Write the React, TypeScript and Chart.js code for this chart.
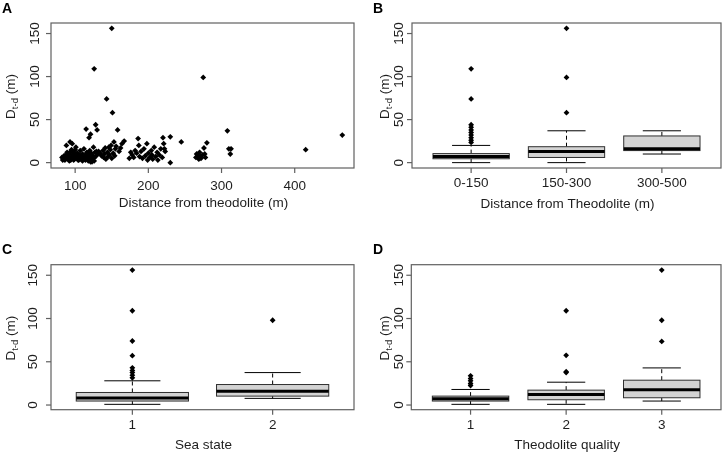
import React, { useEffect, useRef } from "react";
import { Chart, registerables } from "chart.js";
Chart.register(...registerables);

const W = 725;
const H = 455;

// ---------- Data ----------
// Panel A: distance from theodolite (m) vs D t-d (m)
const pointsNear: [number, number][] = [
  [82, 6], [83, 3], [84, 4], [85, 8], [86, 3], [87, 8], [88, 20], [88, 5], [89, 12], [90, 5],
  [90, 9], [91, 7], [92, 10], [92, 2], [93, 24], [94, 3], [94, 13], [95, 15], [95, 6], [96, 9],
  [96, 22], [97, 6], [98, 12], [98, 3], [99, 4], [100, 8], [100, 15], [101, 18], [102, 5], [102, 10],
  [103, 11], [104, 7], [104, 3], [105, 3], [106, 9], [107, 14], [107, 5], [108, 6], [109, 4], [110, 10],
  [110, 2], [111, 7], [112, 16], [112, 4], [113, 5], [114, 3], [114, 9], [115, 8], [116, 12], [116, 5],
  [117, 6], [118, 2], [118, 10], [119, 9], [120, 4], [120, 14], [121, 1], [121, 7], [122, 6], [122, 11],
  [123, 3], [123, 1], [124, 8], [125, 5], [125, 18], [126, 2], [127, 12], [128, 7], [129, 13], [131, 10],
  [115, 39], [119, 29], [121, 33], [126, 109], [128, 44], [130, 38], [132, 13], [134, 11],
];
const pointsMid: [number, number][] = [
  [136, 8], [138, 14], [139, 6], [140, 10], [141, 17], [142, 4], [143, 74], [144, 12], [145, 7], [146, 18],
  [147, 9], [148, 15], [149, 20], [150, 156], [150, 5], [151, 58], [152, 11], [153, 24], [154, 8], [155, 16],
  [156, 19], [158, 38], [160, 13], [162, 17], [164, 22], [167, 25], [174, 5], [176, 12], [178, 9], [180, 6],
  [182, 14], [184, 11], [186, 28], [187, 20], [188, 7], [190, 13], [192, 5], [194, 16], [196, 8], [198, 22],
  [199, 3], [200, 11], [202, 6], [204, 14], [205, 9], [206, 4], [208, 18], [210, 7], [212, 12], [213, 3],
  [215, 9], [217, 16], [219, 6], [220, 29], [221, 22], [222, 16], [223, 13],
];
const pointsFar: [number, number][] = [
  [230, 30], [230, 0], [245, 24], [265, 6], [266, 10], [268, 8], [269, 4], [270, 12], [271, 7], [272, 5],
  [274, 9], [275, 99], [276, 17], [277, 10], [278, 6], [280, 23], [308, 37], [310, 16], [312, 10], [313, 16],
  [415, 15], [465, 32],
];

// Panel B: distance bands
const distLabels = ["0-150", "150-300", "300-500"];
const distLow = [0, 0, 10];
const distQ1 = [4.5, 6, 14];
const distMed = [7, 12.8, 16];
const distQ3 = [10.5, 18.5, 31];
const distHigh = [20, 37, 37];
const distOut = [[109, 74, 44, 41, 38, 35, 32, 29, 26, 23.5], [156, 99, 58], []];

// Panel C: sea state
const seaLabels = ["1", "2"];
const seaLow = [0.8, 7.7];
const seaQ1 = [4.6, 10.3];
const seaMed = [8, 16];
const seaQ3 = [14.5, 23.7];
const seaHigh = [28, 37.5];
const seaOut = [[156, 109, 74, 57, 43, 40, 37.5, 34.5, 31.5], [98]];

// Panel D: theodolite quality
const qualLabels = ["1", "2", "3"];
const qualLow = [0.8, 0.8, 4.6];
const qualQ1 = [4.6, 6.1, 8.4];
const qualMed = [7.3, 12.2, 17.6];
const qualQ3 = [10.3, 17.2, 28.7];
const qualHigh = [18, 26.4, 42.9];
const qualOut = [[33.7, 30.6, 28, 24.9, 22.6], [109, 57.4, 37.5, 38.5], [156, 98, 73.5]];

const yTicks = [0, 50, 100, 150];
const xTicksA = [100, 200, 300, 400];

// ---------- Layout / style ----------
const FONT = "'Liberation Sans', Arial, Helvetica, sans-serif";
const FRAME = "#606060";
const TEXT = "#1e1e1e";

type BoxStats = { low: number[]; q1: number[]; med: number[]; q3: number[]; high: number[]; out: number[][]; labels: string[] };

type Panel = {
  letter: string;
  area: { l: number; t: number; r: number; b: number };
  xMin: number; xMax: number; yMin: number; yMax: number;
  letterPos: [number, number];
  yTitleX: number;
  yTickX: number;
  xTickY: number;
  xTitleY: number;
  xTitle: string;
  box?: BoxStats;
  scatter?: [number, number][];
};

const panels: Panel[] = [
  {
    letter: "A", area: { l: 51, t: 23, r: 354, b: 168 },
    xMin: 67, xMax: 481, yMin: -6.24, yMax: 162.24,
    letterPos: [2, 13], yTitleX: 10, yTickX: 35, xTickY: 186, xTitleY: 203,
    xTitle: "Distance from theodolite (m)",
    scatter: [...pointsNear, ...pointsMid, ...pointsFar],
  },
  {
    letter: "B", area: { l: 412, t: 23, r: 722, b: 168 },
    xMin: 0.38, xMax: 3.62, yMin: -6.24, yMax: 162.24,
    letterPos: [373, 13], yTitleX: 384, yTickX: 399.5, xTickY: 183, xTitleY: 204,
    xTitle: "Distance from Theodolite (m)",
    box: { low: distLow, q1: distQ1, med: distMed, q3: distQ3, high: distHigh, out: distOut, labels: distLabels },
  },
  {
    letter: "C", area: { l: 51, t: 264.7, r: 354, b: 409.7 },
    xMin: 0.42, xMax: 2.58, yMin: -5.4, yMax: 162.2,
    letterPos: [2, 254], yTitleX: 10, yTickX: 33.5, xTickY: 425, xTitleY: 445.5,
    xTitle: "Sea state",
    box: { low: seaLow, q1: seaQ1, med: seaMed, q3: seaQ3, high: seaHigh, out: seaOut, labels: seaLabels },
  },
  {
    letter: "D", area: { l: 411.3, t: 264.7, r: 722, b: 409.7 },
    xMin: 0.38, xMax: 3.62, yMin: -5.4, yMax: 162.2,
    letterPos: [373, 254], yTitleX: 384, yTickX: 399.5, xTickY: 425, xTitleY: 445.5,
    xTitle: "Theodolite quality",
    box: { low: qualLow, q1: qualQ1, med: qualMed, q3: qualQ3, high: qualHigh, out: qualOut, labels: qualLabels },
  },
];

function makePlugin(p: Panel) {
  return {
    id: "rframe" + p.letter,
    beforeDatasetsDraw(chart: any) {
      if (!p.box) return;
      const ctx = chart.ctx as CanvasRenderingContext2D;
      const xs = chart.scales.x;
      const ys = chart.scales.y;
      const bx = p.box;
      ctx.save();
      for (let i = 0; i < bx.labels.length; i++) {
        const cx = xs.getPixelForValue(i + 1);
        const half = xs.getPixelForValue(i + 1.4) - cx;
        const sHalf = half / 2;
        const yLow = ys.getPixelForValue(bx.low[i]);
        const yQ1 = ys.getPixelForValue(bx.q1[i]);
        const yMed = ys.getPixelForValue(bx.med[i]);
        const yQ3 = ys.getPixelForValue(bx.q3[i]);
        const yHigh = ys.getPixelForValue(bx.high[i]);
        ctx.strokeStyle = "#000";
        ctx.lineWidth = 1;
        ctx.setLineDash([4, 3]);
        ctx.beginPath();
        ctx.moveTo(cx, yQ3);
        ctx.lineTo(cx, yHigh);
        ctx.moveTo(cx, yQ1);
        ctx.lineTo(cx, yLow);
        ctx.stroke();
        ctx.setLineDash([]);
        ctx.beginPath();
        ctx.moveTo(cx - sHalf, yHigh);
        ctx.lineTo(cx + sHalf, yHigh);
        ctx.moveTo(cx - sHalf, yLow);
        ctx.lineTo(cx + sHalf, yLow);
        ctx.stroke();
        ctx.fillStyle = "#d3d3d3";
        ctx.fillRect(cx - half, yQ3, 2 * half, yQ1 - yQ3);
        ctx.strokeStyle = "#303030";
        ctx.strokeRect(cx - half, yQ3, 2 * half, yQ1 - yQ3);
        ctx.strokeStyle = "#000";
        ctx.lineWidth = 3;
        ctx.beginPath();
        ctx.moveTo(cx - half, yMed);
        ctx.lineTo(cx + half, yMed);
        ctx.stroke();
      }
      ctx.restore();
    },
    afterDraw(chart: any) {
      const ctx = chart.ctx as CanvasRenderingContext2D;
      const xs = chart.scales.x;
      const ys = chart.scales.y;
      const a = chart.chartArea;
      ctx.save();
      ctx.strokeStyle = FRAME;
      ctx.lineWidth = 1.2;
      ctx.strokeRect(a.left, a.top, a.right - a.left, a.bottom - a.top);
      ctx.fillStyle = TEXT;
      ctx.font = `13.5px ${FONT}`;
      for (const v of yTicks) {
        const y = ys.getPixelForValue(v);
        ctx.beginPath();
        ctx.moveTo(a.left, y);
        ctx.lineTo(a.left - 5, y);
        ctx.stroke();
        ctx.save();
        ctx.translate(p.yTickX, y);
        ctx.rotate(-Math.PI / 2);
        ctx.textAlign = "center";
        ctx.textBaseline = "middle";
        ctx.fillText(String(v), 0, 0);
        ctx.restore();
      }
      const xt: { v: number; s: string }[] = p.box
        ? p.box.labels.map((s, i) => ({ v: i + 1, s }))
        : xTicksA.map((v) => ({ v, s: String(v) }));
      ctx.textAlign = "center";
      ctx.textBaseline = "middle";
      ctx.font = `13.5px ${FONT}`;
      for (const t of xt) {
        const x = xs.getPixelForValue(t.v);
        ctx.beginPath();
        ctx.moveTo(x, a.bottom);
        ctx.lineTo(x, a.bottom + 5);
        ctx.stroke();
        ctx.fillText(t.s, x, p.xTickY);
      }
      ctx.font = `13.5px ${FONT}`;
      ctx.fillText(p.xTitle, (a.left + a.right) / 2 + 1, p.xTitleY);
      ctx.save();
      ctx.translate(p.yTitleX, (a.top + a.bottom) / 2 + 1);
      ctx.rotate(-Math.PI / 2);
      ctx.textAlign = "left";
      ctx.textBaseline = "alphabetic";
      const big = `13.5px ${FONT}`;
      const small = `9.5px ${FONT}`;
      ctx.font = big;
      const wD = ctx.measureText("D").width;
      const wRest = ctx.measureText(" (m)").width;
      ctx.font = small;
      const wSub = ctx.measureText("t-d").width;
      let x0 = -(wD + wSub + wRest) / 2;
      const base = 5;
      ctx.font = big;
      ctx.fillText("D", x0, base);
      x0 += wD;
      ctx.font = small;
      ctx.fillText("t-d", x0, base + 3);
      x0 += wSub;
      ctx.font = big;
      ctx.fillText(" (m)", x0, base);
      ctx.restore();
      ctx.font = `bold 14px ${FONT}`;
      ctx.textAlign = "left";
      ctx.textBaseline = "alphabetic";
      ctx.fillStyle = "#000";
      ctx.fillText(p.letter, p.letterPos[0], p.letterPos[1]);
      ctx.restore();
    },
  };
}

function PanelChart({ p }: { p: Panel }) {
  const ref = useRef<HTMLCanvasElement | null>(null);
  useEffect(() => {
    if (!ref.current) return;
    const pts = p.scatter
      ? p.scatter.map(([x, y]) => ({ x, y }))
      : (p.box as BoxStats).out.flatMap((arr, i) => arr.map((y) => ({ x: i + 1, y })));
    const chart = new Chart(ref.current, {
      type: "scatter",
      data: {
        datasets: [
          {
            data: pts,
            pointStyle: "rectRot",
            pointRadius: 2.9,
            backgroundColor: "#000",
            borderColor: "#000",
            borderWidth: 0,
          },
        ],
      },
      options: {
        responsive: false,
        animation: false,
        events: [],
        devicePixelRatio: 1,
        layout: {
          padding: { left: p.area.l, top: p.area.t, right: W - p.area.r, bottom: H - p.area.b },
        },
        plugins: { legend: { display: false }, tooltip: { enabled: false } },
        scales: {
          x: { type: "linear", display: false, min: p.xMin, max: p.xMax },
          y: { type: "linear", display: false, min: p.yMin, max: p.yMax },
        },
      },
      plugins: [makePlugin(p)],
    } as any);
    return () => chart.destroy();
  }, [p]);
  return (
    <canvas
      ref={ref}
      width={W}
      height={H}
      style={{ position: "absolute", left: 0, top: 0, width: W, height: H }}
    />
  );
}

export default function App() {
  return (
    <div style={{ position: "fixed", left: 0, top: 0, width: W, height: H, background: "#fff" }}>
      {panels.map((p) => (
        <PanelChart key={p.letter} p={p} />
      ))}
    </div>
  );
}
